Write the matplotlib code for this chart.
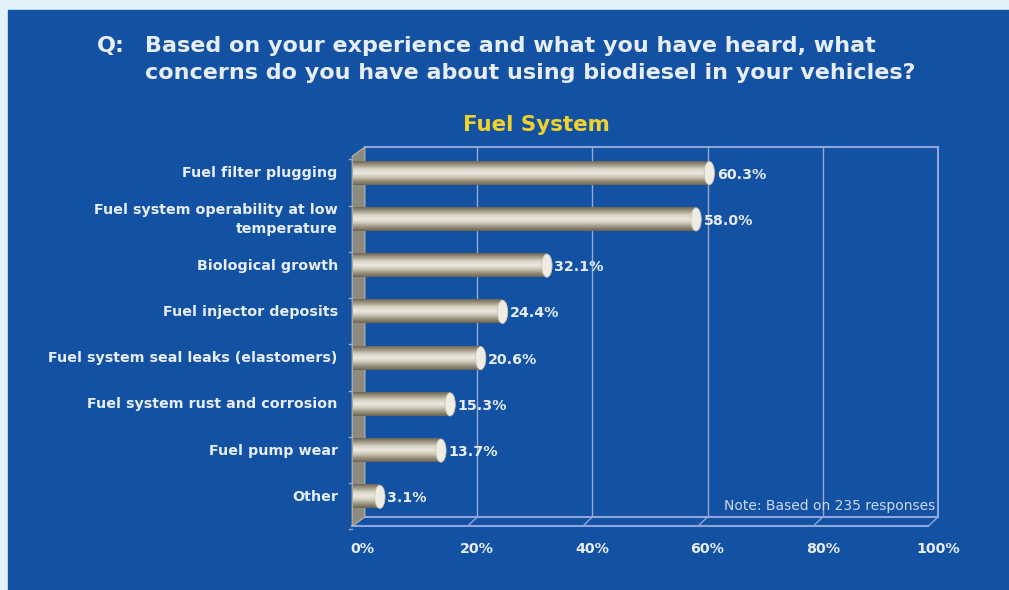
import numpy as np
import matplotlib.pyplot as plt
from matplotlib.patches import Rectangle, Ellipse, Polygon
from matplotlib.colors import LinearSegmentedColormap

plt.rcParams['font.family'] = ['DejaVu Sans']

categories = [
    'Fuel filter plugging',
    'Fuel system operability at low\ntemperature',
    'Biological growth',
    'Fuel injector deposits',
    'Fuel system seal leaks (elastomers)',
    'Fuel system rust and corrosion',
    'Fuel pump wear',
    'Other',
]
values = [60.3, 58.0, 32.1, 24.4, 20.6, 15.3, 13.7, 3.1]
xticks = [0, 20, 40, 60, 80, 100]
xtick_labels = ['0%', '20%', '40%', '60%', '80%', '100%']

W, H = 1009, 590
panel = '#1351a3'
text_c = '#e8eef8'
line_c = '#8ea6da'

small = dict(fontweight='bold', fontsize=10.3, color=text_c)

fig = plt.figure(figsize=(W / 100, H / 100), dpi=100)
fig.patch.set_facecolor('#e1f2fb')
fig.patches.append(Rectangle((8 / W, 0), 1 - 8 / W, 1 - 10 / H,
                             transform=fig.transFigure, color=panel, zorder=-5))


def fx(px):
    return px / W


def fy(py):
    return 1 - py / H


# titles
fig.text(fx(97), fy(46), 'Q:', color=text_c, fontsize=16, fontweight='bold', va='center')
fig.text(fx(145), fy(46), 'Based on your experience and what you have heard, what',
         color=text_c, fontsize=16, fontweight='bold', va='center')
fig.text(fx(145), fy(73), 'concerns do you have about using biodiesel in your vehicles?',
         color=text_c, fontsize=16, fontweight='bold', va='center')
fig.text(fx(536), fy(125), 'Fuel System', color='#f2d22a', fontsize=15.4,
         fontweight='bold', ha='center', va='center')

# plot area: back wall from x=366..938 px, y=147..517 px
ax = fig.add_axes([fx(362), fy(517), fx(938) - fx(362), fy(147) - fy(517)])
ax.set_facecolor('none')
ax.set_zorder(1)
for s in ax.spines.values():
    s.set_visible(False)
ax.set_xticks([])
ax.set_yticks([])

# grid and back box
for t in xticks[1:-1]:
    ax.plot([t, t], [7.435, -0.565], color='#9aa9cc', lw=1, zorder=1)
ax.plot([100, 100], [7.435, -0.565], color=line_c, lw=1.5, zorder=1, clip_on=False)
ax.plot([0.5, 100], [-0.565, -0.565], color=line_c, lw=1.5, zorder=1, clip_on=False)

# floor with depth offset
dx, dy = -1.7, 0.2
yb = 7.435
ax.plot([0.5, 100], [yb, yb], color=line_c, lw=1.5, clip_on=False, zorder=1)
ax.plot([dx, 100 + dx], [yb + dy, yb + dy], color=line_c, lw=1.5, clip_on=False, zorder=1)
for t in xticks[1:]:
    ax.plot([t, t + dx], [yb, yb + dy], color=line_c, lw=1, clip_on=False, zorder=1)

# left wall
wall = Polygon([[dx, -0.565 + dy], [0.5, -0.565], [0.5, yb], [dx, yb + dy]],
               closed=True, facecolor='#8d8a7f', edgecolor='#b9b6aa', lw=0.8,
               clip_on=False, zorder=2)
ax.add_patch(wall)
for i in range(len(categories) + 1):
    yy = i - 0.5
    ax.plot([dx - 0.6, dx], [yy + dy, yy + dy], color='#9aa9cc', lw=1, clip_on=False, zorder=2)

# cylinder bars
cyl = LinearSegmentedColormap.from_list(
    'cyl', ['#6f6656', '#a59c89', '#d9d4c6', '#ece9df', '#cfc9b9', '#9a917e', '#6c6352'])
grad = np.linspace(0, 1, 64).reshape(-1, 1)
bh = 0.5
for i, v in enumerate(values):
    ax.imshow(grad, cmap=cyl, aspect='auto', interpolation='bilinear',
              extent=(dx + 0.2, v, i + bh / 2, i - bh / 2), zorder=3, clip_on=False)
    ax.add_patch(Ellipse((v, i), 1.8, bh, facecolor='#efece4', edgecolor='#c9c4b6',
                         lw=0.6, zorder=4, clip_on=False))
    ax.text(v + 1.3, i + 0.03, f'{v:.1f}%', va='center', ha='left', zorder=5, **small)
    ax.text(-4.2, i, categories[i], va='center', ha='right', linespacing=1.45,
            clip_on=False, **small)

ax.set_xlim(0, 100)
ax.set_ylim(7.435, -0.565)

for t, lab in zip(xticks, xtick_labels):
    ax.text(t, 8.12, lab, ha='center', va='center', clip_on=False, **small)

ax.text(99.5, 7.2, 'Note: Based on 235 responses', color='#cdd8f0', fontsize=10,
        ha='right', va='center', zorder=5)

fig.savefig('out.png', dpi=100, facecolor=fig.get_facecolor())
